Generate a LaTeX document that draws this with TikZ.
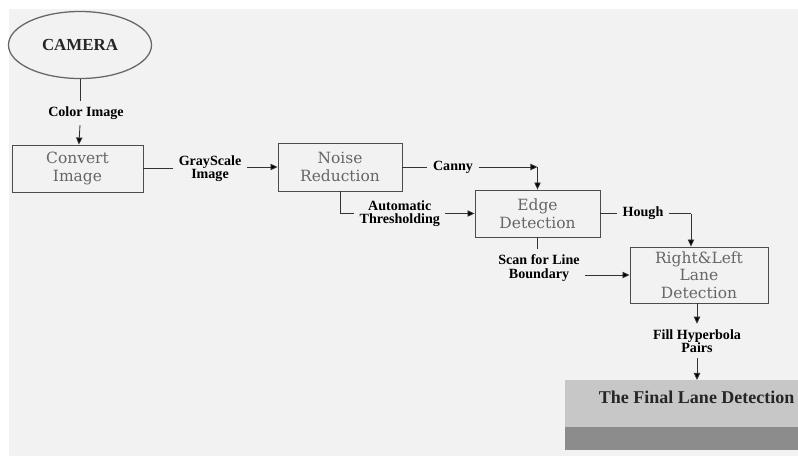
\documentclass[tikz,border=0pt]{standalone}
\usepackage{fontspec}
\setmainfont{Liberation Serif}
\newfontfamily\boxfont{DejaVu Serif}
\usepackage{xcolor}
\usetikzlibrary{
	arrows.meta,
	shapes.geometric
}

\begin{document}
\begin{tikzpicture}[x=0.025cm,y=-0.025cm,
		box/.style={draw=black!70,line width=0.6pt,align=center,text=black!60,
			font=\boxfont\fontsize{11}{12.5}\selectfont,inner sep=1pt},
		lbl/.style={align=center,font=\fontsize{10}{9.5}\selectfont\bfseries,
			inner sep=1pt,outer sep=3pt},
		link/.style={draw=black!80,line width=0.6pt},
		arr/.style={-{Triangle[length=5pt,width=4.5pt,fill=black]}}]
		\clip (0,0) rectangle (798,456);
		\fill[white] (0,0) rectangle (798,456);
		\fill[black!5] (9,9) rectangle (798,456);

		% process boxes
		\node[draw=black!60,line width=0.9pt,ellipse,minimum width=3.575cm,minimum height=1.675cm,
			font=\fontsize{12}{14}\selectfont\bfseries,text=black!85] (camera) at (80,45) {CAMERA};
		\node[box,minimum width=3.275cm,minimum height=1.175cm] (convert) at (77.5,168.5) {Convert\\Image};
		\node[box,minimum width=3.1cm,minimum height=1.2cm] (noise) at (340,167) {Noise\\Reduction};
		\node[box,minimum width=3.125cm,minimum height=1.175cm] (edge) at (537.5,213.5) {Edge\\Detection};
		\node[box,minimum width=3.45cm,minimum height=1.4cm] (rl) at (699,275) {Right\&Left\\Lane\\Detection};

		% final result band
		\fill[black!22] (565,380) rectangle (798,427);
		\fill[black!45] (565,427) rectangle (798,450);
		\node[anchor=west,font=\fontsize{12.8}{15}\selectfont\bfseries,text=black!85] (final) at (594,397)
			{The Final Lane Detection};
		\coordinate (finaltop) at (697,380);

		% connector labels
		\node[lbl] (colorlbl) at (86,113) {Color Image};
		\node[lbl] (graylbl) at (210,168.5) {GrayScale\\Image};
		\node[lbl] (cannylbl) at (453,167) {Canny};
		\node[lbl,anchor=west] (autolbl) at (354,213.5) {Automatic\\Thresholding};
		\node[lbl] (scanlbl) at (539,268) {Scan for Line\\Boundary};
		\node[lbl] (houghlbl) at (643,213.5) {Hough};
		\node[lbl] (filllbl) at (697,341) {Fill Hyperbola\\Pairs};
		\coordinate (cannyturn) at (537.5,167);
		\coordinate (houghturn) at (691,213.5);

		% connectors
		\draw[link] (camera) -- (camera |- colorlbl.north);
		\draw[link,arr] (camera |- colorlbl.south) -- (convert);
		\draw[link] (convert) -- (graylbl);
		\draw[link,arr] (graylbl.east |- noise) -- (noise);
		\draw[link] (noise) -- (cannylbl);
		\draw[link,arr] (cannylbl) -- (cannyturn);
		\draw[link,arr] (cannyturn) -- (edge);
		\draw[link] (noise) |- (autolbl);
		\draw[link,arr] (autolbl) -- (edge);
		\draw[link] (edge) -- (houghlbl);
		\draw[link] (houghlbl) -- (houghturn);
		\draw[link,arr] (houghturn) -- (houghturn |- rl.north);
		\draw[link] (edge) -- (edge |- scanlbl.north);
		\draw[link,arr] (scanlbl.east |- rl) -- (rl);
		\draw[link,arr] (rl.south -| filllbl) -- (filllbl);
		\draw[link,arr] (filllbl) -- (finaltop);
	\end{tikzpicture}
\end{document}
